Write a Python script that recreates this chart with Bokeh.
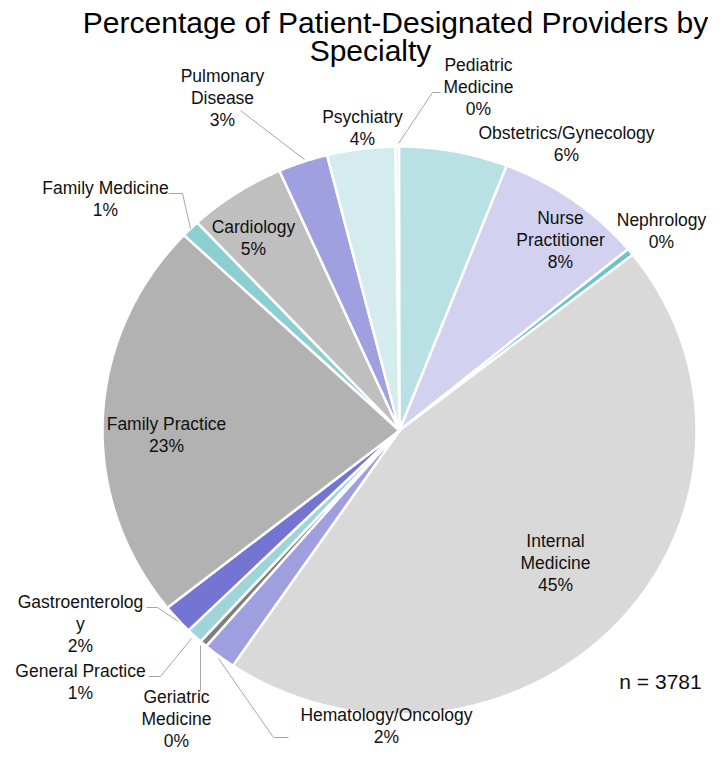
import math
from bokeh.plotting import figure
from bokeh.models import ColumnDataSource, Range1d
from bokeh.core.properties import value
from bokeh.embed import file_html
from bokeh.resources import INLINE

# ---------------- data ----------------
specialties = ["Pediatric Medicine", "Obstetrics/Gynecology", "Nurse Practitioner", "Nephrology",
               "Internal Medicine", "Hematology/Oncology", "Geriatric Medicine", "General Practice",
               "Gastroenterology", "Family Practice", "Family Medicine", "Cardiology",
               "Pulmonary Disease", "Psychiatry"]
percent = [0.2, 5.9, 8.1, 0.4, 45.1, 1.8, 0.4, 0.9, 1.7, 22.8, 1.0, 5.3, 2.7, 3.7]
label_names = ["Pediatric\nMedicine", "Obstetrics/Gynecology", "Nurse\nPractitioner", "Nephrology",
               "Internal\nMedicine", "Hematology/Oncology", "Geriatric\nMedicine", "General Practice",
               "Gastroenterolog\ny", "Family Practice", "Family Medicine", "Cardiology",
               "Pulmonary\nDisease", "Psychiatry"]
colors = ["#dcf0f2", "#b9e0e2", "#d2d2f0", "#6cc3c9", "#d9d9d9", "#9f9fe0", "#7f7f7f", "#9dd5d8",
          "#7474d3", "#b2b2b2", "#8ccfd3", "#bfbfbf", "#a09fdf", "#d5ecef"]
n_total = 3781
title_lines = ["Percentage of Patient-Designated Providers by", "Specialty"]

# ---------------- layout ----------------
W, H = 708, 749
FONT = "Liberation Sans"


def px(x, y):
    """picture pixel -> data coords"""
    return x, H - y


CX, CY = px(399, 430)
RX, RY = 297, 284
START_DEG = -0.8

label_pos = {
    "Pediatric Medicine": (478, 86),
    "Obstetrics/Gynecology": (566, 143),
    "Nurse Practitioner": (560, 239),
    "Nephrology": (661, 230),
    "Internal Medicine": (555, 562),
    "Hematology/Oncology": (386, 725),
    "Geriatric Medicine": (176, 718),
    "General Practice": (80, 681),
    "Gastroenterology": (80, 623),
    "Family Practice": (166, 434),
    "Family Medicine": (105, 198),
    "Cardiology": (253, 237),
    "Pulmonary Disease": (222, 97),
    "Psychiatry": (362, 127),
}
leaders = [
    [(240, 110), (304, 159)],
    [(440, 92), (432, 92), (398, 143)],
    [(168, 193), (182, 193), (190, 228)],
    [(146, 607), (157, 607), (178, 621)],
    [(148, 676), (160, 676), (191, 638)],
    [(200, 690), (200, 645)],
    [(288, 737), (273, 737), (218, 658)],
]

# ---------------- slices ----------------
total = sum(percent)
xs, ys = [], []
a = math.radians(START_DEG)
for v in percent:
    span = 2 * math.pi * v / total
    steps = max(2, int(math.degrees(span) / 0.5) + 1)
    sx, sy = [CX], [CY]
    for i in range(steps + 1):
        t = a + span * i / steps
        sx.append(CX + RX * math.sin(t))
        sy.append(CY + RY * math.cos(t))
    xs.append(sx)
    ys.append(sy)
    a += span

pie_src = ColumnDataSource(dict(xs=xs, ys=ys, color=colors, name=specialties, pct=percent))

p = figure(width=W, height=H, output_backend="svg", toolbar_location=None,
           x_range=Range1d(0, W), y_range=Range1d(0, H), min_border=0,
           outline_line_color=None, background_fill_color="white", border_fill_color="white")
p.axis.visible = False
p.grid.visible = False

p.patches("xs", "ys", source=pie_src, fill_color="color", line_color="white", line_width=2.5)

# leader lines
lx = [[px(x, y)[0] for x, y in seg] for seg in leaders]
ly = [[px(x, y)[1] for x, y in seg] for seg in leaders]
p.multi_line(lx, ly, line_color="#a6a6a6", line_width=1)

# data labels
lab_x, lab_y, lab_t = [], [], []
for name, lname, v in zip(specialties, label_names, percent):
    x, y = px(*label_pos[name])
    lab_x.append(x)
    lab_y.append(y)
    lab_t.append(f"{lname}\n{int(round(v))}%")
p.text(lab_x, lab_y, text=lab_t, text_align="center", text_baseline="middle",
       text_font=value(FONT), text_font_size="17.5px", text_color="#111111", text_line_height=1.1)

# n label
nx, ny = px(660, 681)
p.text([nx], [ny], text=[f"n = {n_total}"], text_align="center", text_baseline="middle",
       text_font=value(FONT), text_font_size="21px", text_color="#111111")

# title
t1x, t1y = px(395, 22)
t2x, t2y = px(370, 50)
p.text([t1x, t2x], [t1y, t2y], text=title_lines, text_align="center", text_baseline="middle",
       text_font=value(FONT), text_font_size="30px", text_color="#000000")

open("out.html", "w").write(file_html(p, INLINE))
